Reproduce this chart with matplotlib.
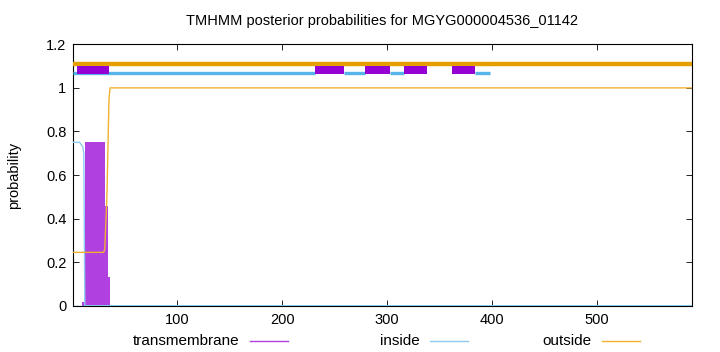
import matplotlib
matplotlib.use("Agg")
import matplotlib.pyplot as plt
from matplotlib.lines import Line2D

plt.rcParams['font.family'] = ['Liberation Sans', 'DejaVu Sans']

title = "TMHMM posterior probabilities for MGYG000004536_01142"
seq_len = 590

# thin posterior curves (change points)
inside_x = [1, 7, 10, 11, 12, 590]
inside_y = [0.75, 0.75, 0.73, 0.70, 0.0, 0.0]
outside_x = [1, 30, 31, 33, 35, 36, 590]
outside_y = [0.245, 0.245, 0.26, 0.50, 0.95, 1.0, 1.0]
# transmembrane probability blocks: start, end, value
tm_start = [9, 12, 31, 34]
tm_end = [12, 31, 34, 36]
tm_val = [0.015, 0.75, 0.46, 0.13]

# predicted topology strips at top
tm_seg = [(5, 35), (231, 259), (279, 303), (316, 338), (362, 384)]
inside_seg = [(1, 231), (259, 279), (303, 316), (384, 398)]
outside_seg = [(1, 590)]

xticks = [100, 200, 300, 400, 500]
yticks = [0, 0.2, 0.4, 0.6, 0.8, 1.0, 1.2]
ytick_labels = ["0", "0.2", "0.4", "0.6", "0.8", "1", "1.2"]

c_tm = '#9400d3'
c_tm_fill = '#b040e0'
c_in = '#56b4e9'
c_out = '#e69f00'
c_out_thin = '#f0b030'

fig = plt.figure(figsize=(7.2, 3.52), dpi=100)
ax = fig.add_axes([0.1018, 0.1315, 0.8589, 0.7426])

# TM fill
ax.bar(tm_start, tm_val, width=[e - s for s, e in zip(tm_start, tm_end)],
       align='edge', color=c_tm_fill, edgecolor='none', zorder=2)
ax.plot(inside_x, inside_y, color='#8ccbee', lw=1.0, zorder=3)
ax.plot(outside_x, outside_y, color=c_out_thin, lw=1.0, zorder=3)
ax.plot([1, seq_len], [0.0, 0.0], color=c_in, lw=1.0, zorder=3)

# topology strips
for s, e in outside_seg:
    ax.plot([s, e], [1.11, 1.11], color=c_out, lw=3.2, solid_capstyle='butt', zorder=4)
for s, e in inside_seg:
    ax.plot([s, e], [1.068, 1.068], color=c_in, lw=2.4, solid_capstyle='butt', zorder=4)
for s, e in tm_seg:
    ax.fill_between([s, e], 1.065, 1.10, color=c_tm, lw=0, zorder=5)

ax.set_xlim(1, seq_len)
ax.set_ylim(0, 1.2)
ax.set_xticks(xticks)
ax.set_xticklabels([str(t) for t in xticks])
ax.set_yticks(yticks)
ax.set_yticklabels(ytick_labels)
ax.tick_params(direction='in', length=4, width=0.6, top=True, right=True,
               labelsize=10.5, pad=5, colors='black')
for sp in ax.spines.values():
    sp.set_linewidth(0.8)
    sp.set_color('black')

ax.set_ylabel("probability", fontsize=10.5, labelpad=18)
fig.text(0.5306, 0.94, title, ha='center', va='center', fontsize=10.5)

# legend at bottom
leg_items = [("transmembrane", c_tm_fill, 0.333, 0.347, 0.400),
             ("inside", '#8ccbee', 0.583, 0.597, 0.650),
             ("outside", c_out_thin, 0.822, 0.836, 0.889)]
ly = 0.031
for label, col, tx, l0, l1 in leg_items:
    fig.text(tx, ly, label, ha='right', va='center', fontsize=11)
    fig.add_artist(Line2D([l0, l1], [ly, ly], transform=fig.transFigure,
                          color=col, lw=1.0))

fig.savefig("out.png", dpi=100)
